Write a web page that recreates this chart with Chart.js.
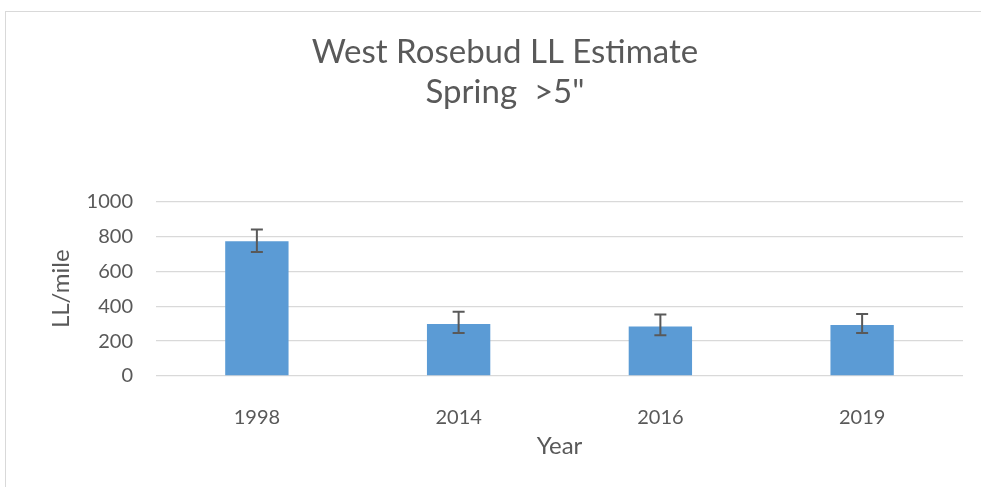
<!DOCTYPE html>
<html>

<head>
    <meta charset="UTF-8">
    <script src="https://cdn.jsdelivr.net/npm/chart.js"></script>
    <style>
        body { margin: 0; background: #fff; overflow: hidden; }
        #frame { position: absolute; left: 5px; top: 11px; width: 1000px; height: 500px; border: 1px solid #d9d9d9; }
        #wrap { position: absolute; left: 0; top: 0; width: 981px; height: 487px; }
    </style>
</head>

<body>
    <div id="frame"></div>
    <div id="wrap">
        <canvas id="llChart"></canvas>
    </div>
    <script>
        const years = ["1998", "2014", "2016", "2019"];
        const llPerMile = [772, 298, 283, 293];
        const errLow = [710, 246, 233, 246];
        const errHigh = [840, 368, 352, 355];
        const yTicks = [0, 200, 400, 600, 800, 1000];

        const textColor = "#595959";

        // simple error bars, drawn through the y scale
        const errorBars = {
            id: "errorBars",
            afterDatasetsDraw(chart) {
                const ctx = chart.ctx;
                const yScale = chart.scales.y;
                const meta = chart.getDatasetMeta(0);
                ctx.save();
                ctx.strokeStyle = textColor;
                ctx.lineWidth = 2;
                meta.data.forEach((bar, i) => {
                    const top = yScale.getPixelForValue(errHigh[i]);
                    const bottom = yScale.getPixelForValue(errLow[i]);
                    ctx.beginPath();
                    ctx.moveTo(bar.x, top);
                    ctx.lineTo(bar.x, bottom);
                    ctx.moveTo(bar.x - 6, top);
                    ctx.lineTo(bar.x + 6, top);
                    ctx.moveTo(bar.x - 6, bottom);
                    ctx.lineTo(bar.x + 6, bottom);
                    ctx.stroke();
                });
                ctx.restore();
            }
        };

        const llConfig = {
            type: "bar",
            data: {
                labels: years,
                datasets: [
                    {
                        label: "LL/mile",
                        data: llPerMile,
                        backgroundColor: "#5b9bd5",
                        categoryPercentage: 1,
                        barPercentage: 0.314,
                    },
                ],
            },
            options: {
                responsive: true,
                maintainAspectRatio: false,
                animation: false,
                // left padding centres the title like the framed chart
                layout: { padding: { left: 29, right: 0, top: 0, bottom: 0 } },
                plugins: {
                    legend: { display: false },
                    tooltip: { enabled: false },
                    title: {
                        display: true,
                        text: ["West Rosebud LL Estimate", "Spring  >5\""],
                        color: textColor,
                        font: { family: "Lato", size: 33, weight: "normal", lineHeight: 1.22 },
                        padding: { top: 32, bottom: 89 },
                    },
                },
                scales: {
                    x: {
                        grid: { display: false },
                        border: { display: false },
                        ticks: { color: textColor, font: { family: "Lato", size: 20 }, padding: 22 },
                        title: {
                            display: true,
                            text: "Year",
                            color: textColor,
                            font: { family: "Lato", size: 24 },
                            padding: { top: 0, bottom: 26 },
                        },
                        afterFit(scale) { scale.height = 111; },
                    },
                    y: {
                        min: 0,
                        max: 1000,
                        afterBuildTicks(scale) { scale.ticks = yTicks.map(v => ({ value: v })); },
                        grid: { color: "#d9d9d9", lineWidth: 1.3, drawTicks: false },
                        border: { display: false },
                        ticks: {
                            color: textColor,
                            font: { family: "Lato", size: 20 },
                            padding: 23,
                            callback: v => String(v),
                        },
                        title: {
                            display: true,
                            text: "LL/mile",
                            color: textColor,
                            font: { family: "Lato", size: 24 },
                            padding: { top: 18, bottom: 0 },
                        },
                        afterFit(scale) { scale.width = 127; },
                    },
                    // empty right axis, only keeps the right margin
                    yRight: {
                        position: "right",
                        min: 0,
                        max: 1000,
                        grid: { drawOnChartArea: false, drawTicks: false },
                        border: { display: false },
                        ticks: { display: false },
                        afterFit(scale) { scale.width = 18; },
                    },
                },
            },
            plugins: [errorBars],
        };

        new Chart(document.getElementById("llChart"), llConfig);
    </script>
</body>

</html>
